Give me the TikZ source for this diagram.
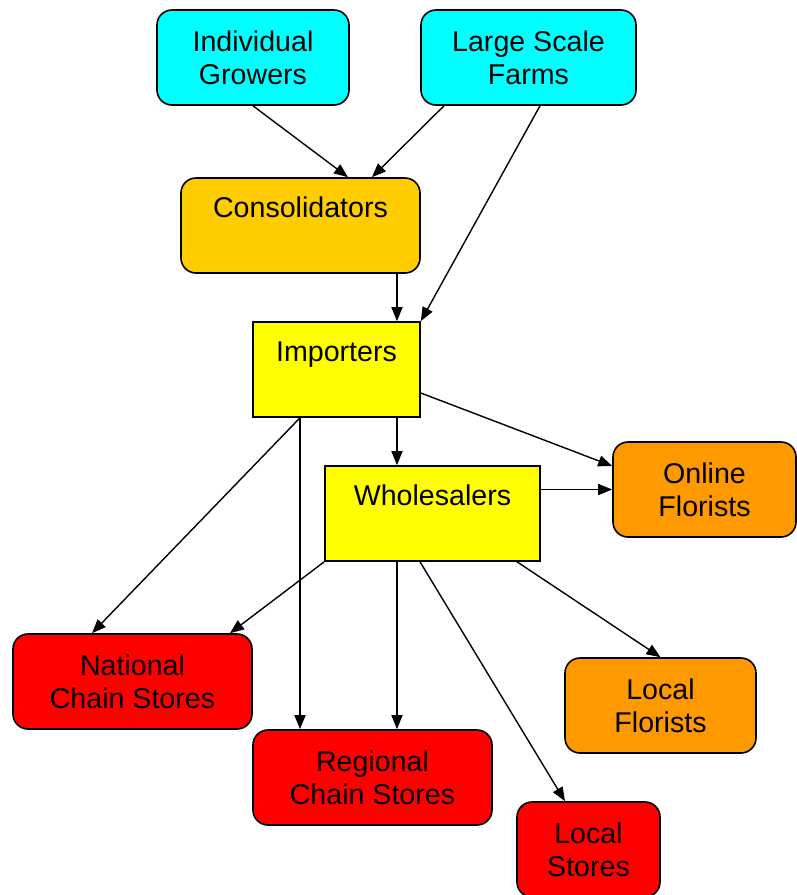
\documentclass[tikz,border=0pt]{standalone}
\usepackage{fontspec}
\setmainfont{Liberation Sans}
\usepackage{xcolor}
\usepackage{tikz}
\usetikzlibrary{arrows.meta,positioning}

\definecolor{growcyan}{HTML}{00FFFF}
\definecolor{consgold}{HTML}{FFCC00}
\definecolor{tradeyellow}{HTML}{FFFF00}
\definecolor{floristorange}{HTML}{FF9900}
\definecolor{storered}{HTML}{FF0000}

\begin{document}
\begin{tikzpicture}[
    x = 1pt, y = 1pt,
    box/.style={
        draw = black, % border
        line width = 1.6pt,
        inner sep = 0pt,
        minimum height = 95pt, % size
        font=\fontsize{28.6}{33}\selectfont %font
      },
    rbox/.style={box, rounded corners = 15pt, align = center},
    topbox/.style={box, text height = 21pt, text depth = 38pt},
    grower/.style={rbox, fill = growcyan},
    florist/.style={rbox, fill = floristorange},
    store/.style={rbox, fill = storered},
    flow/.style={-{Triangle[length=14pt,width=11pt]}, line width = 1.4pt}
  ]
  \useasboundingbox (0,0) rectangle (796,-895);

  % sources
  \node [grower, minimum width = 192pt] (grow) at (253,-57.5) {Individual\\Growers};
  \node [grower, minimum width = 215pt] (farms) at (528.5,-57.5) {Large Scale\\Farms};

  % middle of the chain
  \node [topbox, rounded corners = 15pt, fill = consgold, minimum width = 239pt] (consol) at (300.5,-225.5) {Consolidators};
  \node [topbox, fill = tradeyellow, minimum width = 167pt] (import) at (336.5,-369.5) {Importers};
  \node [topbox, fill = tradeyellow, minimum width = 215pt] (whole) at (432.5,-513.5) {Wholesalers};

  % sellers
  \node [florist, minimum width = 183pt] (online) at (704.5,-489.5) {Online\\Florists};
  \node [florist, minimum width = 191pt] (lflor) at (660.5,-705.5) {Local\\Florists};
  \node [store, minimum width = 239pt] (national) at (132.5,-681.5) {National\\Chain Stores};
  \node [store, minimum width = 239pt] (regional) at (372.5,-777.5) {Regional\\Chain Stores};
  \node [store, minimum width = 143pt] (lstores) at (588.5,-849.5) {Local\\Stores};

  % connectors
  \draw [flow] (grow.south) -- ([xshift=47.5pt]consol.north);
  \draw [flow] ([xshift=-84.5pt]farms.south) -- ([xshift=71.5pt]consol.north);
  \draw [flow] ([xshift=11.5pt]farms.south) -- (import.north east);
  \draw [flow] ([xshift=96.5pt]consol.south) -- ([xshift=60.5pt]import.north);
  \draw [flow] ([yshift=-23.5pt]import.east) -- ([yshift=23.5pt]online.west);
  \draw [flow] ([xshift=60.5pt]import.south) -- ([xshift=-35.5pt]whole.north);
  \draw [flow] ([xshift=-36.5pt]import.south) -- ([xshift=-40.5pt]national.north);
  \draw [flow] ([xshift=-36.5pt]import.south) -- ([xshift=-72.5pt]regional.north);
  \draw [flow] ([yshift=24pt]whole.east) -- (online.west);
  \draw [flow] (whole.south west) -- ([xshift=97.5pt]national.north);
  \draw [flow] ([xshift=-35.5pt]whole.south) -- ([xshift=24.5pt]regional.north);
  \draw [flow] ([xshift=-12.5pt]whole.south) -- ([xshift=-23.5pt]lstores.north);
  \draw [flow] ([xshift=84.5pt]whole.south) -- (lflor.north);
\end{tikzpicture}
\end{document}
